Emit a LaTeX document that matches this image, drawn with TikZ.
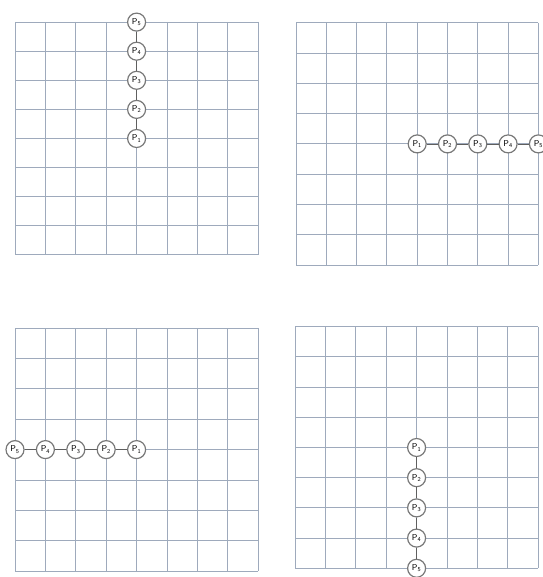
\documentclass[tikz,border=0pt]{standalone}
\usepackage{tikz}
\usetikzlibrary{positioning}
\definecolor{gridblue}{RGB}{158,170,188}
\definecolor{beadgray}{RGB}{120,120,120}
\definecolor{linkgray}{RGB}{95,95,95}
\tikzset{
  gridline/.style={draw=gridblue, line width=0.9pt},
  bead/.style={circle, draw=beadgray, fill=white, line width=1.2pt, minimum size=18pt, inner sep=0pt, font=\fontsize{8.5}{10}\sffamily},
  link/.style={draw=linkgray, line width=0.6pt},
}

\begin{document}
\begin{tikzpicture}[x=1pt, y=-1pt]
  \useasboundingbox (0,0) rectangle (542,577);

  % top left: chain points up
  \foreach \i in {0,...,8} {
    \draw[gridline] (15+\i*30.4, 22) -- (15+\i*30.4, 255);
    \draw[gridline] (15, 22+\i*29.1) -- (258, 22+\i*29.1);
  }
  \foreach \k in {1,...,5}
    \node[bead] (a\k) at (136.6, {138.5-(\k-1)*29.1}) {P\textsubscript{\k}};

  % top right: chain points right
  \foreach \i in {0,...,8} {
    \draw[gridline] (296+\i*30.3, 22.7) -- (296+\i*30.3, 265.1);
    \draw[gridline] (296, 22.7+\i*30.3) -- (538.4, 22.7+\i*30.3);
  }
  \foreach \k in {1,...,5}
    \node[bead] (b\k) at ({417.2+(\k-1)*30.3}, 143.9) {P\textsubscript{\k}};

  % bottom left: chain points left
  \foreach \i in {0,...,8} {
    \draw[gridline] (15+\i*30.4, 328) -- (15+\i*30.4, 571.2);
    \draw[gridline] (15, 328+\i*30.4) -- (258.2, 328+\i*30.4);
  }
  \foreach \k in {1,...,5}
    \node[bead] (c\k) at ({136.6-(\k-1)*30.4}, 449.6) {P\textsubscript{\k}};

  % bottom right: chain points down
  \foreach \i in {0,...,8} {
    \draw[gridline] (295+\i*30.4, 326.7) -- (295+\i*30.4, 568.3);
    \draw[gridline] (295, 326.7+\i*30.2) -- (538.2, 326.7+\i*30.2);
  }
  \foreach \k in {1,...,5}
    \node[bead] (d\k) at (416.6, {447.5+(\k-1)*30.2}) {P\textsubscript{\k}};

  % bonds
  \foreach \p in {a,b,c,d}
    \foreach \k/\j in {1/2,2/3,3/4,4/5}
      \draw[link] (\p\k) -- (\p\j);

\end{tikzpicture}
\end{document}
